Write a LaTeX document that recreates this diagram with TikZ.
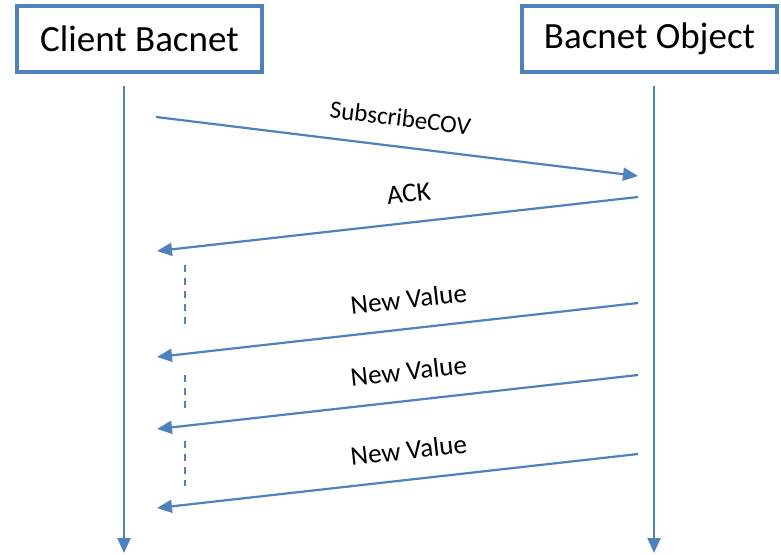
\documentclass[tikz,border=0pt]{standalone}
\usepackage{fontspec}
\setmainfont{Carlito}
\usetikzlibrary{arrows.meta}
\definecolor{ob}{HTML}{4F81BD}
\begin{document}
\begin{tikzpicture}[x=1pt,y=-1pt,
  actor/.style={draw=ob, line width=4pt, minimum width=#1, minimum height=66pt, inner sep=0pt, font=\fontsize{37}{40}\selectfont},
  msg/.style={draw=ob, line width=2.2pt, -{Triangle[length=15pt,width=13pt]}},
  life/.style={draw=ob, line width=2.2pt, -{Triangle[length=15pt,width=13pt]}},
  lab/.style={sloped, above=19pt, font=\fontsize{27}{30}\selectfont, text=black, inner sep=0pt},
  gap/.style={draw=ob, line width=2pt, dash pattern=on 7pt off 6pt}]
\useasboundingbox (0,0) rectangle (781,554);
\node[actor=245pt] (client) at (139.5,38.5) {Client Bacnet};
\node[actor=255pt] (object) at (649.5,38.5) {Bacnet Object};
\coordinate (lt) at (124,86);
\coordinate (lb) at (124,553);
\coordinate (rt) at (654,86);
\coordinate (rb) at (654,553);
\draw[life] (lt) -- (lb);
\draw[life] (rt) -- (rb);
\coordinate (a1s) at (156,117);
\coordinate (a1e) at (638,176);
\coordinate (a2s) at (638,197);
\coordinate (a2e) at (157,251);
\coordinate (a3s) at (638,303);
\coordinate (a3e) at (157,357);
\coordinate (a4s) at (638,375);
\coordinate (a4e) at (157,429);
\coordinate (a5s) at (638,454);
\coordinate (a5e) at (157,508);
\draw[msg] (a1s) -- node[lab, pos=0.50, font=\fontsize{25}{28}\selectfont] (l1) {SubscribeCOV} (a1e);
\draw[msg] (a2s) -- node[lab, pos=0.47] (l2) {ACK} (a2e);
\draw[msg] (a3s) -- node[lab, pos=0.47] (l3) {New Value} (a3e);
\draw[msg] (a4s) -- node[lab, pos=0.47] (l4) {New Value} (a4e);
\draw[msg] (a5s) -- node[lab, pos=0.47] (l5) {New Value} (a5e);
\coordinate (d1a) at (185,265);
\coordinate (d1b) at (185,328);
\coordinate (d2a) at (185,375);
\coordinate (d2b) at (185,411);
\coordinate (d3a) at (185,441);
\coordinate (d3b) at (185,486);
\draw[gap] (d1a) -- (d1b);
\draw[gap] (d2a) -- (d2b);
\draw[gap] (d3a) -- (d3b);
\end{tikzpicture}
\end{document}
